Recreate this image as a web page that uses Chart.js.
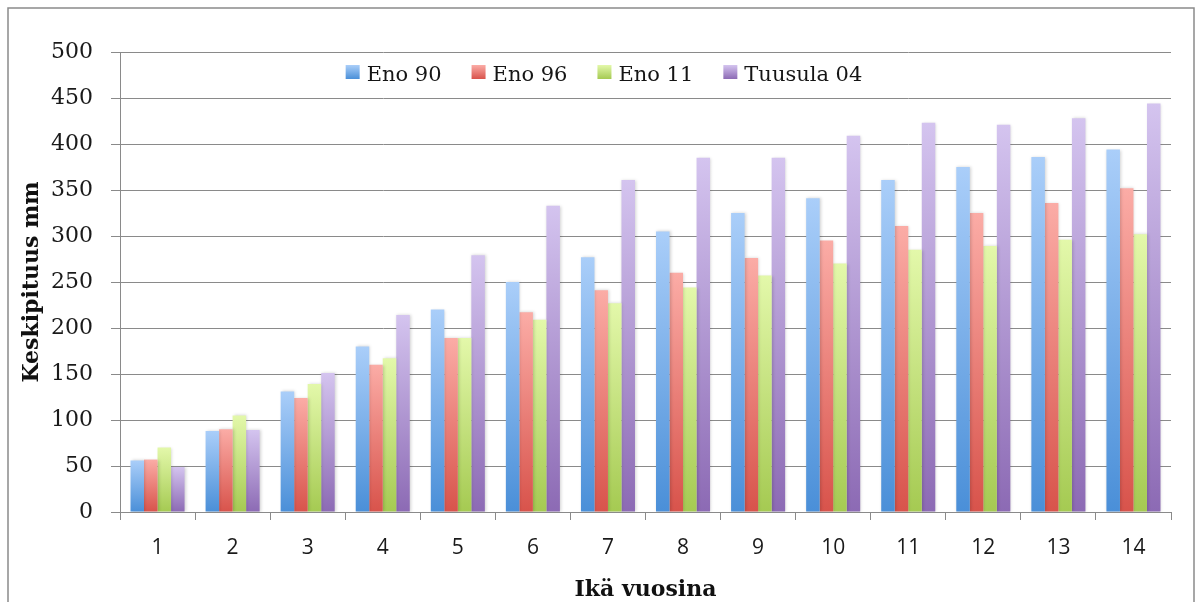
<!DOCTYPE html>
<html>
<head>
<meta charset="utf-8">
<title>Keskipituus iän mukaan</title>
<script src="https://cdn.jsdelivr.net/npm/chart.js@4/dist/chart.umd.min.js"></script>
<style>
  html, body { margin: 0; padding: 0; background: #ffffff; }
  #wrap { width: 1196px; height: 602px; }
</style>
</head>
<body>
<div id="wrap"><canvas id="c" width="1196" height="602"></canvas></div>
<script>
// Age in years
const ages = ['1', '2', '3', '4', '5', '6', '7', '8', '9', '10', '11', '12', '13', '14'];

// Mean length (mm) per sample
const eno90 = [56, 88, 131, 180, 220, 250, 277, 305, 325, 341, 361, 375, 386, 394];
const eno96 = [57, 90, 124, 160, 189, 217, 241, 260, 276, 295, 311, 325, 336, 352];
const eno11 = [70, 105, 139, 167, 189, 209, 227, 244, 257, 270, 285, 289, 296, 302];
const tuusula04 = [49, 89, 151, 214, 279, 333, 361, 385, 385, 409, 423, 421, 428, 444];

const seriesNames = ['Eno 90', 'Eno 96', 'Eno 11', 'Tuusula 04'];

// Light (top) and dark (bottom) shade of each series
const shades = [
  ['#aacef9', '#4a8fd8'],
  ['#fbaca6', '#d8534b'],
  ['#e3f8aa', '#a5ca52'],
  ['#d4c4ef', '#8c6ab4']
];

const GRID = '#8a8a8a';

function barFill(index) {
  return function (ctx) {
    const chart = ctx.chart;
    const area = chart.chartArea;
    const [light, dark] = shades[index];
    if (!area || ctx.type !== 'data' || !chart.scales.y) return light;
    const y = chart.scales.y;
    const top = y.getPixelForValue(ctx.raw);
    const bottom = y.getPixelForValue(0);
    if (!isFinite(top) || !isFinite(bottom) || bottom - top < 1) return dark;
    const g = chart.ctx.createLinearGradient(0, top, 0, bottom);
    g.addColorStop(0, light);
    g.addColorStop(1, dark);
    return g;
  };
}

// White page with the thin grey frame around the chart
const framePlugin = {
  id: 'frame',
  beforeDraw(chart) {
    const c = chart.ctx;
    c.save();
    c.fillStyle = '#ffffff';
    c.fillRect(0, 0, chart.width, chart.height);
    c.strokeStyle = '#8a8a8a';
    c.lineWidth = 1.5;
    c.strokeRect(8, 8, 1186, 700);
    c.restore();
  }
};

// Soft shadow under the bars
const shadowPlugin = {
  id: 'barShadow',
  beforeDatasetsDraw(chart) {
    const c = chart.ctx;
    c.save();
    c.shadowColor = 'rgba(0,0,0,0.18)';
    c.shadowBlur = 3;
    c.shadowOffsetX = 1;
    c.shadowOffsetY = 0;
  },
  afterDatasetsDraw(chart) {
    chart.ctx.restore();
  }
};

// Legend row inside the plot, under the top grid line
const legendPlugin = {
  id: 'inlineLegend',
  afterDatasetsDraw(chart) {
    const c = chart.ctx;
    const box = 14, gapText = 7, gapItem = 30;
    const centerX = 604, boxTop = 65, baseline = 81;
    c.save();
    c.font = '21px "DejaVu Serif"';
    const labels = chart.data.datasets.map(d => d.label);
    const widths = labels.map(t => c.measureText(t).width);
    let total = 0;
    widths.forEach((w, i) => { total += box + gapText + w + (i < widths.length - 1 ? gapItem : 0); });
    let x = centerX - total / 2;
    labels.forEach((t, i) => {
      const g = c.createLinearGradient(0, boxTop, 0, boxTop + box);
      g.addColorStop(0, shades[i][0]);
      g.addColorStop(1, shades[i][1]);
      c.fillStyle = g;
      c.fillRect(x, boxTop, box, box);
      c.fillStyle = '#151515';
      c.textBaseline = 'alphabetic';
      c.textAlign = 'left';
      c.fillText(t, x + box + gapText, baseline);
      x += box + gapText + widths[i] + gapItem;
    });
    c.restore();
  }
};

const seriesData = [eno90, eno96, eno11, tuusula04];

new Chart(document.getElementById('c'), {
  type: 'bar',
  data: {
    labels: ages,
    datasets: seriesData.map((values, i) => ({
      label: seriesNames[i],
      data: values,
      backgroundColor: barFill(i),
      borderWidth: 0,
      categoryPercentage: 0.72,
      barPercentage: 1.0
    }))
  },
  options: {
    responsive: false,
    animation: false,
    events: [],
    layout: { padding: { left: 0, top: 52, right: 25, bottom: 0 } },
    plugins: {
      legend: { display: false },
      tooltip: { enabled: false }
    },
    scales: {
      x: {
        grid: {
          display: true,
          drawOnChartArea: false,
          drawTicks: true,
          tickLength: 8,
          color: GRID,
          offset: true
        },
        border: { display: true, color: GRID, width: 1 },
        ticks: {
          font: { family: '"Open Sans"', size: 21 },
          color: '#1a1a1a',
          padding: 15,
          maxRotation: 0
        },
        title: {
          display: true,
          text: 'Ikä vuosina',
          font: { family: '"DejaVu Serif"', size: 22, weight: 'bold', lineHeight: 1 },
          color: '#111111',
          padding: { top: 0, bottom: 1 }
        },
        afterFit(scale) { scale.height = 90; }
      },
      y: {
        min: 0,
        max: 500,
        ticks: {
          stepSize: 50,
          font: { family: '"DejaVu Serif"', size: 22 },
          color: '#1a1a1a',
          padding: 18
        },
        grid: {
          color: GRID,
          lineWidth: 1,
          drawTicks: true,
          tickLength: 9
        },
        border: { display: true, color: GRID, width: 1 },
        title: {
          display: true,
          text: 'Keskipituus mm',
          font: { family: '"DejaVu Serif"', size: 22, weight: 'bold', lineHeight: 1 },
          color: '#111111',
          padding: { top: 21, bottom: 0 }
        },
        afterFit(scale) { scale.width = 120; }
      }
    }
  },
  plugins: [framePlugin, shadowPlugin, legendPlugin]
});
</script>
</body>
</html>
